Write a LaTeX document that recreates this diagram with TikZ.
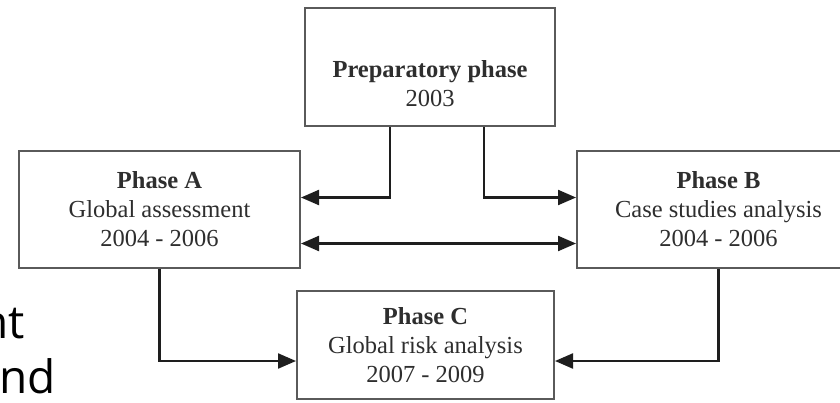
\documentclass[tikz,border=0pt]{standalone}
\usepackage{fontspec}
\setmainfont{Liberation Serif}
\newfontfamily\slidefont{Open Sans}
\usepackage{xcolor}
\usetikzlibrary{calc,arrows.meta}
\definecolor{bg}{HTML}{FFFFFF}
\definecolor{frame}{HTML}{5A5A5A}
\definecolor{ink}{HTML}{2E2E2E}
\definecolor{wire}{HTML}{1E1E1E}
\tikzset{
  box/.style={draw=frame, line width=2pt, fill=bg, rectangle, inner sep=0pt,
    align=center, text=ink, font=\fontsize{24.5}{29}\selectfont},
  conn/.style={draw=wire, line width=2.2pt, line join=miter,
    -{Triangle[length=18pt,width=15pt]}},
  frag/.style={text=black, inner sep=0pt, anchor=base east,
    font=\slidefont\fontsize{46}{46}\selectfont},
}
\begin{document}
\begin{tikzpicture}[x=1pt,y=-1pt]
  \useasboundingbox (0,0) rectangle (840,402);
  \clip (0,0) rectangle (840,402);
  \fill[bg] (0,0) rectangle (840,402);
  % boxes
  \node[box, minimum width=250pt, minimum height=118pt] (prep) at (430,67)
    {\mbox{}\\[22pt]\textbf{Preparatory phase}\\2003};
  \node[box, minimum width=281pt, minimum height=117pt] (phaseA) at (159.5,209.5)
    {\textbf{Phase A}\\Global assessment\\2004 - 2006};
  \node[box, minimum width=283pt, minimum height=117pt] (phaseB) at (718.5,209.5)
    {\textbf{Phase B}\\Case studies analysis\\2004 - 2006};
  \node[box, minimum width=257pt, minimum height=108pt] (phaseC) at (425.5,345)
    {\textbf{Phase C}\\Global risk analysis\\2007 - 2009};
  % connectors
  \draw[conn] ([xshift=-40pt]prep.south) |- ([yshift=12pt]phaseA.east);
  \draw[conn] ([xshift=54pt]prep.south) |- ([yshift=12pt]phaseB.west);
  \draw[conn, {Triangle[length=18pt,width=15pt]}-{Triangle[length=18pt,width=15pt]}]
    ([yshift=-34pt]phaseA.east) -- ([yshift=-34pt]phaseB.west);
  \draw[conn] (phaseA.south) |- ([yshift=-16pt]phaseC.west);
  \draw[conn] (phaseB.south) |- ([yshift=-16pt]phaseC.east);
  % cut-off slide text
  \node[frag] (fragA) at (25,338) {nt};
  \node[frag] (fragB) at (56,393) {nd};
\end{tikzpicture}
\end{document}
